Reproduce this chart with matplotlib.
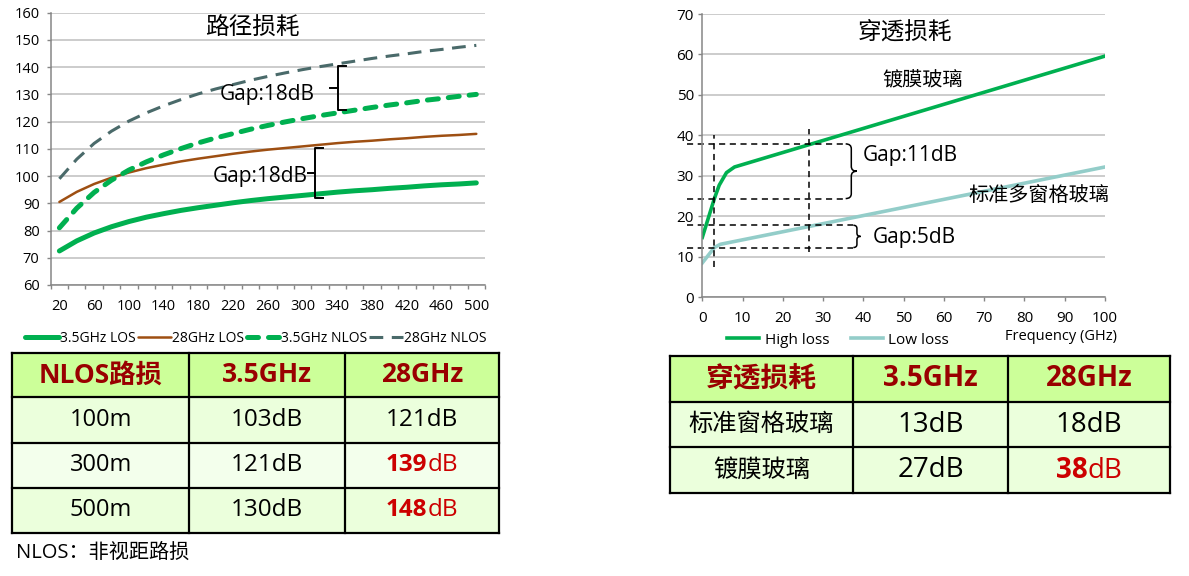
import matplotlib
matplotlib.use('Agg')
import matplotlib.pyplot as plt
from matplotlib.patches import Rectangle, PathPatch
from matplotlib.path import Path
from matplotlib.offsetbox import TextArea, HPacker, AnnotationBbox

plt.rcParams['font.family'] = ['Open Sans', 'Noto Sans CJK SC', 'DejaVu Sans']

# ---------------- data ----------------
distance_m = [20, 40, 60, 80, 100, 120, 140, 160, 180, 200, 220, 240, 260,
              280, 300, 320, 340, 360, 380, 400, 420, 440, 460, 480, 500]
los_35 = [72.5, 76.2, 79.1, 81.4, 83.3, 84.9, 86.2, 87.4, 88.4, 89.3, 90.2, 91.0, 91.7,
          92.3, 92.9, 93.5, 94.1, 94.6, 95.0, 95.5, 95.9, 96.4, 96.8, 97.1, 97.5]
los_28 = [90.5, 94.2, 97.1, 99.4, 101.3, 102.9, 104.2, 105.4, 106.4, 107.3, 108.2, 109.0, 109.7,
          110.3, 110.9, 111.5, 112.1, 112.6, 113.0, 113.5, 113.9, 114.4, 114.8, 115.1, 115.5]
nlos_35 = [81.0, 88.2, 94.0, 98.5, 102.2, 105.2, 107.8, 110.1, 112.2, 114.0, 115.6, 117.2, 118.6,
           119.9, 121.1, 122.2, 123.2, 124.2, 125.2, 126.1, 126.9, 127.8, 128.5, 129.3, 130.0]
nlos_28 = [99.0, 106.2, 112.0, 116.5, 120.2, 123.2, 125.8, 128.1, 130.2, 132.0, 133.6, 135.2, 136.6,
           137.9, 139.1, 140.2, 141.2, 142.2, 143.2, 144.1, 144.9, 145.8, 146.5, 147.3, 148.0]
series_names = ['3.5GHz LOS', '28GHz LOS', '3.5GHz NLOS', '28GHz NLOS']
dist_ticks = [20, 60, 100, 140, 180, 220, 260, 300, 340, 380, 420, 460, 500]
loss_ticks = [60, 70, 80, 90, 100, 110, 120, 130, 140, 150, 160]

freq_high = [0, 3, 4.2, 6, 8, 100]
loss_high = [14.8, 24.4, 27.7, 30.8, 32.2, 59.6]
freq_low = [0, 3, 4.5, 100]
loss_low = [8.5, 12.3, 13.1, 32.2]
pen_names = ['High loss', 'Low loss']
freq_ticks = [0, 10, 20, 30, 40, 50, 60, 70, 80, 90, 100]
pen_ticks = [0, 10, 20, 30, 40, 50, 60, 70]

nlos_header = ['NLOS路损', '3.5GHz', '28GHz']
nlos_dist = ['100m', '300m', '500m']
nlos_tab_35 = [103, 121, 130]
nlos_tab_28 = [121, 139, 148]
nlos_highlight = [False, True, True]

pen_header = ['穿透损耗', '3.5GHz', '28GHz']
pen_rows = ['标准窗格玻璃', '镀膜玻璃']
pen_tab_35 = [13, 27]
pen_tab_28 = [18, 38]
pen_highlight = [False, True]

# ---------------- style ----------------
GREEN = '#00B050'
BROWN = '#9E4F12'
SLATE = '#4A6A6A'
TEAL = '#93CDC9'
GRID = '#BFBFBF'
SPINE = '#868686'
HEAD_FILL = '#CCFF99'
BODY_FILL = '#EBFFDC'
BODY_FILL2 = '#F3FFEC'
DARKRED = '#990000'
RED = '#CC0000'

W, H = 1189, 576
fig = plt.figure(figsize=(W / 100, H / 100), dpi=100)


def fx(px):
    return px / W


def fy(py):
    return 1 - py / H


ov = fig.add_axes([0, 0, 1, 1])
ov.set_xlim(0, W)
ov.set_ylim(H, 0)
ov.axis('off')


def style_axes(ax):
    for s in ['top', 'right']:
        ax.spines[s].set_visible(False)
    for s in ['left', 'bottom']:
        ax.spines[s].set_color(SPINE)
        ax.spines[s].set_linewidth(1.1)
    ax.grid(axis='y', color=GRID, linewidth=1.1)
    ax.set_axisbelow(True)
    ax.set_facecolor('none')


# ---------------- left chart ----------------
ax1 = fig.add_axes([fx(50.7), fy(285), (485 - 50.7) / W, (285 - 12.7) / H])
style_axes(ax1)
l1, = ax1.plot(distance_m, los_35, color=GREEN, lw=3.6, solid_capstyle='round')
l2, = ax1.plot(distance_m, los_28, color=BROWN, lw=1.8, solid_capstyle='round')
l3, = ax1.plot(distance_m, nlos_35, color=GREEN, lw=3.6, linestyle=(0, (2.2, 2.0)),
               dash_capstyle='round')
l4, = ax1.plot(distance_m, nlos_28, color=SLATE, lw=2.2, linestyle=(0, (4.5, 2.8)))
ax1.set_xlim(10, 510)
ax1.set_ylim(60, 160)
ax1.set_xticks(dist_ticks)
ax1.set_xticks([d - 10 for d in distance_m] + [distance_m[-1] + 10], minor=True)
ax1.set_yticks(loss_ticks)
ax1.tick_params(axis='x', which='major', length=0, pad=10, labelsize=10.5)
ax1.tick_params(axis='x', which='minor', length=3, color=SPINE, width=1)
ax1.tick_params(axis='y', length=3, color=SPINE, width=1, pad=5, labelsize=10.5)

ax1.text(242, 154.6, '路径损耗', ha='center', va='center', fontsize=17)
ax1.text(205, 129.8, 'Gap:18dB', ha='left', va='center', fontsize=15)
ax1.text(196, 99.8, 'Gap:18dB', ha='left', va='center', fontsize=15)


def square_brace(ax, x, y0, y1, stub, tip):
    mid = (y0 + y1) / 2
    ax.plot([x + stub, x, x, x + stub], [y1, y1, y0, y0], color='black', lw=1.4,
            clip_on=False)
    ax.plot([x, x - tip], [mid, mid], color='black', lw=1.4, clip_on=False)


square_brace(ax1, 341, 124.3, 140.4, 9, 9)
square_brace(ax1, 314, 92.1, 110.4, 9, 8)

fig.legend(handles=[l1, l2, l3, l4], labels=series_names, loc='center',
           bbox_to_anchor=(fx(256), fy(338)), ncol=4, frameon=False, fontsize=10,
           handlelength=2.4, handletextpad=0.1, columnspacing=0.15,
           borderpad=0, borderaxespad=0)

# ---------------- right chart ----------------
ax2 = fig.add_axes([fx(702.3), fy(297.3), (1105 - 702.3) / W, (297.3 - 14) / H])
style_axes(ax2)
h1, = ax2.plot(freq_high, loss_high, color=GREEN, lw=2.6)
h2, = ax2.plot(freq_low, loss_low, color=TEAL, lw=2.6)
ax2.set_xlim(0, 100)
ax2.set_ylim(0, 70)
ax2.set_xticks(freq_ticks)
ax2.set_yticks(pen_ticks)
ax2.tick_params(axis='x', length=3, color=SPINE, width=1, pad=7, labelsize=11)
ax2.tick_params(axis='y', length=3, color=SPINE, width=1, pad=3, labelsize=11)

ax2.text(50.3, 65.4, '穿透损耗', ha='center', va='center', fontsize=17)
ax2.text(54.6, 53.3, '镀膜玻璃', ha='center', va='center', fontsize=14.5)
ax2.text(83.6, 24.9, '标准多窗格玻璃', ha='center', va='center', fontsize=14.5)
ax2.text(39.8, 35.1, 'Gap:11dB', ha='left', va='center', fontsize=15)
ax2.text(42.3, 14.8, 'Gap:5dB', ha='left', va='center', fontsize=15)

dash = (0, (4, 3))
for yv, xe in [(37.9, 35.5), (24.4, 35.8), (17.8, 37.5), (12.3, 37.5)]:
    ax2.plot([-3.8, xe], [yv, yv], color='black', lw=1.1, linestyle=dash, clip_on=False)
ax2.plot([2.9, 2.9], [7.5, 40.2], color='black', lw=1.1, linestyle=dash)
ax2.plot([26.6, 26.6], [11.3, 41.5], color='black', lw=1.1, linestyle=dash)


def curly_brace(ax, x, y0, y1, h, dy):
    mid = (y0 + y1) / 2
    verts = [(x, y1), (x + h, y1), (x + h, y1 - dy), (x + h, mid + dy),
             (x + h, mid), (x + 2 * h, mid),
             (x + 2 * h, mid), (x + h, mid), (x + h, mid - dy), (x + h, y0 + dy),
             (x + h, y0), (x, y0)]
    codes = [Path.MOVETO, Path.CURVE3, Path.CURVE3, Path.LINETO,
             Path.CURVE3, Path.CURVE3,
             Path.MOVETO, Path.CURVE3, Path.CURVE3, Path.LINETO,
             Path.CURVE3, Path.CURVE3]
    ax.add_patch(PathPatch(Path(verts, codes), fill=False, edgecolor='black', lw=1.1))


curly_brace(ax2, 35.6, 24.4, 37.9, 1.4, 1.2)
curly_brace(ax2, 37.5, 12.3, 17.8, 0.9, 0.8)

fig.legend(handles=[h1, h2], labels=pen_names, loc='center',
           bbox_to_anchor=(fx(838), fy(340)), ncol=2, frameon=False, fontsize=11,
           handlelength=2.1, handletextpad=0.35, columnspacing=1.4,
           borderpad=0, borderaxespad=0)
fig.text(fx(1117), fy(336.7), 'Frequency (GHz)', ha='right', va='center', fontsize=10.5)


# ---------------- tables ----------------
def cell_text(x, y, parts, size):
    boxes = [TextArea(t, textprops=dict(fontsize=size, color=c, fontweight=w))
             for t, c, w in parts]
    pack = HPacker(children=boxes, pad=0, sep=0, align='baseline')
    ab = AnnotationBbox(pack, (x, y), xycoords='data', frameon=False,
                        box_alignment=(0.5, 0.5), pad=0)
    ov.add_artist(ab)


def draw_table(xs, ys, fills, rows, size_head, size_label, size_value):
    for r in range(len(ys) - 1):
        ov.add_patch(Rectangle((xs[0], ys[r]), xs[-1] - xs[0], ys[r + 1] - ys[r],
                               facecolor=fills[r], edgecolor='none'))
    for yv in ys:
        ov.plot([xs[0], xs[-1]], [yv, yv], color='black', lw=1.6, solid_capstyle='projecting')
    for xv in xs:
        ov.plot([xv, xv], [ys[0], ys[-1]], color='black', lw=1.6, solid_capstyle='projecting')
    for r, row in enumerate(rows):
        cy = (ys[r] + ys[r + 1]) / 2
        for c, parts in enumerate(row):
            cx = (xs[c] + xs[c + 1]) / 2
            if r == 0:
                size = size_head
            elif c == 0:
                size = size_label
            else:
                size = size_value
            cell_text(cx, cy, parts, size)


def value_parts(v, hl):
    if hl:
        return [(str(v), RED, 'bold'), ('dB', RED, 'normal')]
    return [(f'{v}dB', 'black', 'normal')]


left_rows = [[[(t, DARKRED, 'bold')] for t in nlos_header]]
for name, a, b, hl in zip(nlos_dist, nlos_tab_35, nlos_tab_28, nlos_highlight):
    left_rows.append([[(name, 'black', 'normal')], value_parts(a, False), value_parts(b, hl)])
draw_table([12.3, 189, 345, 499], [352.7, 396.7, 442.7, 487.7, 532.7],
           [HEAD_FILL, BODY_FILL, BODY_FILL2, BODY_FILL], left_rows, 19, 17, 17.5)

right_rows = [[[(t, DARKRED, 'bold')] for t in pen_header]]
for name, a, b, hl in zip(pen_rows, pen_tab_35, pen_tab_28, pen_highlight):
    right_rows.append([[(name, 'black', 'normal')], value_parts(a, False), value_parts(b, hl)])
draw_table([670, 853.3, 1007.7, 1170], [355.7, 401.7, 447.3, 493.3],
           [HEAD_FILL, BODY_FILL, BODY_FILL], right_rows, 20, 17.5, 20)

fig.text(fx(16), fy(553), 'NLOS：非视距路损', ha='left', va='center', fontsize=14.5)

fig.savefig('out.png', dpi=100)
